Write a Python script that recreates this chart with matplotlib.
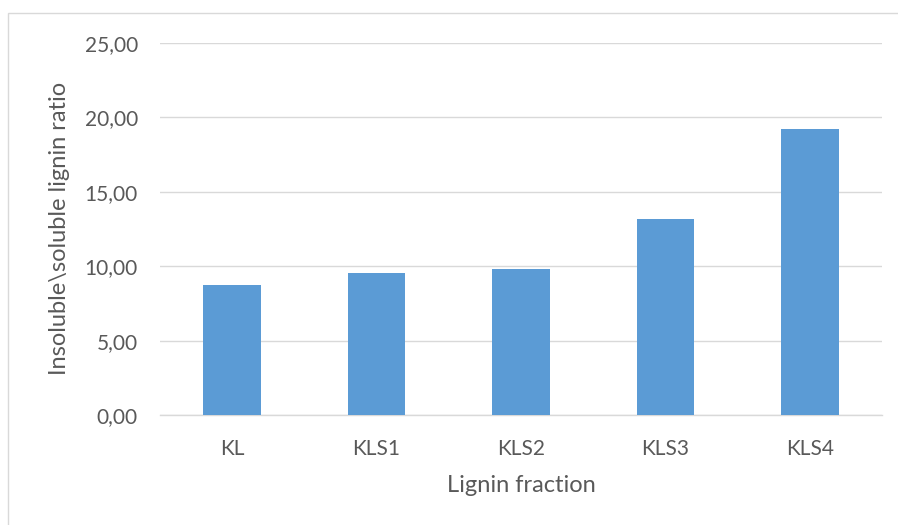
import matplotlib
matplotlib.use("Agg")
import matplotlib.pyplot as plt
from matplotlib.patches import Rectangle

categories = ["KL", "KLS1", "KLS2", "KLS3", "KLS4"]
values = [8.72, 9.51, 9.78, 13.20, 19.24]
yticks = [0, 5, 10, 15, 20, 25]
ytick_labels = ["0,00", "5,00", "10,00", "15,00", "20,00", "25,00"]

plt.rcParams['font.family'] = ['Lato', 'DejaVu Sans']
W, H = 898, 525
fig = plt.figure(figsize=(W/100, H/100), dpi=100)
fig.patch.set_facecolor('white')
# outer chart border
fig.patches.append(Rectangle((8/W, -0.02), (W-8)/W + 0.02, (H-13)/H + 0.02, transform=fig.transFigure,
                             fill=False, edgecolor='#D9D9D9', linewidth=1.0))

ax = fig.add_axes([160/W, (H-415)/H, (882-160)/W, (415-43)/H])
x = list(range(len(categories)))
ax.bar(x, values, width=0.4, color='#5B9BD5', zorder=3)
ax.set_xlim(-0.5, len(categories)-0.5)
ax.set_ylim(0, 25)
ax.set_yticks(yticks)
ax.set_yticklabels(ytick_labels)
ax.set_xticks(x)
ax.set_xticklabels(categories)
ax.grid(axis='y', color='#D9D9D9', linewidth=1.0, zorder=0)
for s in ['top', 'right', 'left']:
    ax.spines[s].set_visible(False)
ax.spines['bottom'].set_color('#D9D9D9')
ax.spines['bottom'].set_linewidth(1.0)
ax.tick_params(axis='both', length=0, colors='#595959', labelsize=15)
ax.tick_params(axis='y', pad=16)
ax.tick_params(axis='x', pad=17)
fig.text(521/W, 1 - 485/H, "Lignin fraction", fontsize=17, color='#595959',
         ha='center', va='center')
fig.text(60/W, 1 - 228/H, "Insoluble\\soluble lignin ratio", fontsize=17, color='#595959',
         ha='center', va='center', rotation=90)
fig.savefig("out.png", dpi=100)
